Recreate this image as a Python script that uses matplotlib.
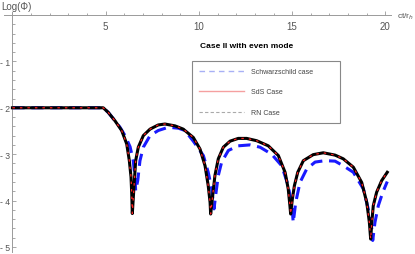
import matplotlib
matplotlib.use("Agg")
import matplotlib.pyplot as plt
from matplotlib.lines import Line2D
from matplotlib.ticker import MultipleLocator, FixedLocator

plt.rcParams['font.family'] = ['Liberation Sans', 'DejaVu Sans']

# SdS case (black solid) and RN case (red dashed, overlapping)
sds_t = [0, 4.87, 5.14, 5.50, 5.86, 6.13, 6.27, 6.36, 6.40, 6.43, 6.54, 6.61, 6.75, 7.02,
         7.38, 7.82, 8.18, 8.72, 9.16, 9.70, 10.06, 10.33, 10.50, 10.60, 10.63, 10.74,
         10.86, 11.04, 11.31, 11.67, 12.11, 12.56, 13.10, 13.72, 14.26, 14.62, 14.79,
         14.88, 14.92, 15.01, 15.12, 15.30, 15.60, 16.13, 16.67, 17.30, 17.74, 18.28,
         18.73, 19.00, 19.14, 19.21, 19.27, 19.35, 19.53, 19.80, 20.10]
sds_log = [-2.0, -2.0, -2.10, -2.28, -2.49, -2.78, -3.14, -3.49, -3.86, -4.28, -3.57, -3.14,
           -2.85, -2.60, -2.46, -2.37, -2.35, -2.39, -2.46, -2.64, -2.89, -3.25, -3.68,
           -4.04, -4.29, -3.89, -3.46, -3.10, -2.85, -2.72, -2.66, -2.66, -2.71, -2.82,
           -3.03, -3.39, -3.75, -4.11, -4.29, -3.97, -3.68, -3.39, -3.14, -3.01, -2.97,
           -3.02, -3.10, -3.28, -3.61, -4.04, -4.47, -4.83, -4.47, -4.11, -3.82, -3.57, -3.39]
rn_t = sds_t
rn_log = sds_log

# Schwarzschild case (blue dashed)
sch_t = [0, 4.87, 5.14, 5.50, 5.77, 6.04, 6.31, 6.48, 6.57, 6.61, 6.72, 6.84, 7.02, 7.38,
         7.82, 8.36, 8.90, 9.25, 9.70, 10.24, 10.50, 10.69, 10.77, 10.81, 10.92, 11.04,
         11.22, 11.58, 12.11, 12.74, 13.28, 13.90, 14.44, 14.79, 14.98, 15.06, 15.19,
         15.42, 15.78, 16.23, 16.76, 17.30, 17.74, 18.28, 18.82, 19.08, 19.27, 19.32,
         19.44, 19.62, 19.86, 20.10]
sch_log = [-2.0, -2.0, -2.10, -2.28, -2.42, -2.60, -2.84, -3.14, -3.49, -3.79, -3.57, -3.14,
           -2.85, -2.60, -2.49, -2.42, -2.44, -2.49, -2.72, -3.03, -3.39, -3.75, -4.04,
           -4.18, -3.82, -3.46, -3.17, -2.92, -2.82, -2.80, -2.85, -3.00, -3.25, -3.68,
           -4.11, -4.47, -4.04, -3.61, -3.32, -3.17, -3.14, -3.15, -3.25, -3.39, -3.75,
           -4.18, -4.61, -4.86, -4.47, -4.11, -3.82, -3.59]

x_ticks = [5, 10, 15, 20]
x_labels = ['5', '10', '15', '20']
y_ticks = [-1, -2, -3, -4, -5]
y_labels = ['- 1', '- 2', '- 3', '- 4', '- 5']
series_labels = ['Schwarzschild case', 'SdS Case', 'RN Case']

W, H = 415, 255
fig = plt.figure(figsize=(W / 100, H / 100), dpi=100)
left_px, right_px, top_px, bot_px = 4.0, 391.0, 12.75, 252.6
ax = fig.add_axes([left_px / W, 1 - bot_px / H, (right_px - left_px) / W, (bot_px - top_px) / H])
ax.set_xlim(-0.45, 20.3)
ax.set_ylim(-5.1, 0.07)

ax.plot(sch_t, sch_log, color='#1a1aff', lw=2.2, dashes=(4, 2.2), zorder=2)
ax.plot(sds_t, sds_log, color='black', lw=2.2, zorder=3)
ax.plot(rn_t, rn_log, color='#ff2020', lw=0.9, dashes=(2, 4), zorder=4)

for s in ['top', 'right']:
    ax.spines[s].set_visible(False)
ax.spines['left'].set_position(('data', 0))
ax.spines['bottom'].set_position(('data', 0))
for s in ['left', 'bottom']:
    ax.spines[s].set_color('#9a9a9a')
    ax.spines[s].set_linewidth(0.7)

ax.xaxis.set_major_locator(FixedLocator(x_ticks))
ax.set_xticklabels(x_labels)
ax.xaxis.set_minor_locator(MultipleLocator(1))
ax.yaxis.set_major_locator(FixedLocator(y_ticks))
ax.set_yticklabels(y_labels)
ax.yaxis.set_minor_locator(MultipleLocator(0.2))
ax.tick_params(which='both', direction='in', color='#9a9a9a', width=0.6,
               labelcolor='#555555')
ax.tick_params(which='major', length=3.2)
ax.tick_params(which='minor', length=1.8)
ax.tick_params(axis='x', which='major', labelsize=7, pad=4)
ax.tick_params(axis='y', which='major', labelsize=6.3, pad=1.5)
ax.patch.set_alpha(0)

fig.text(1 / W, 1 - 7 / H, 'Log(Φ)', fontsize=7, color='#555555', va='center', ha='left')
fig.text(397 / W, 1 - 17 / H, 'ct/r$_h$', fontsize=6.0, color='#555555', va='center', ha='left')
fig.text(247 / W, 1 - 47 / H, 'Case II with even mode', fontsize=6.0, fontweight='bold',
         color='black', va='center', ha='center')

handles = [Line2D([], [], color='#a8b0f5', lw=1.0, dashes=(4, 3)),
           Line2D([], [], color='#f5a0a0', lw=1.0),
           Line2D([], [], color='#aaaaaa', lw=0.8, dashes=(3, 2))]
leg = ax.legend(handles, series_labels, loc='upper left', mode='expand',
                bbox_to_anchor=(192 / W, 1 - 122 / H, 148 / W, 60 / H),
                bbox_transform=fig.transFigure,
                fontsize=5.0, frameon=True, fancybox=False, framealpha=1,
                edgecolor='#888888', handlelength=6.5, handletextpad=1.0,
                labelspacing=1.95, borderpad=1.0, borderaxespad=0)
leg.get_frame().set_linewidth(0.8)
for t in leg.get_texts():
    t.set_color('#444444')

fig.savefig('out.png', dpi=100)
